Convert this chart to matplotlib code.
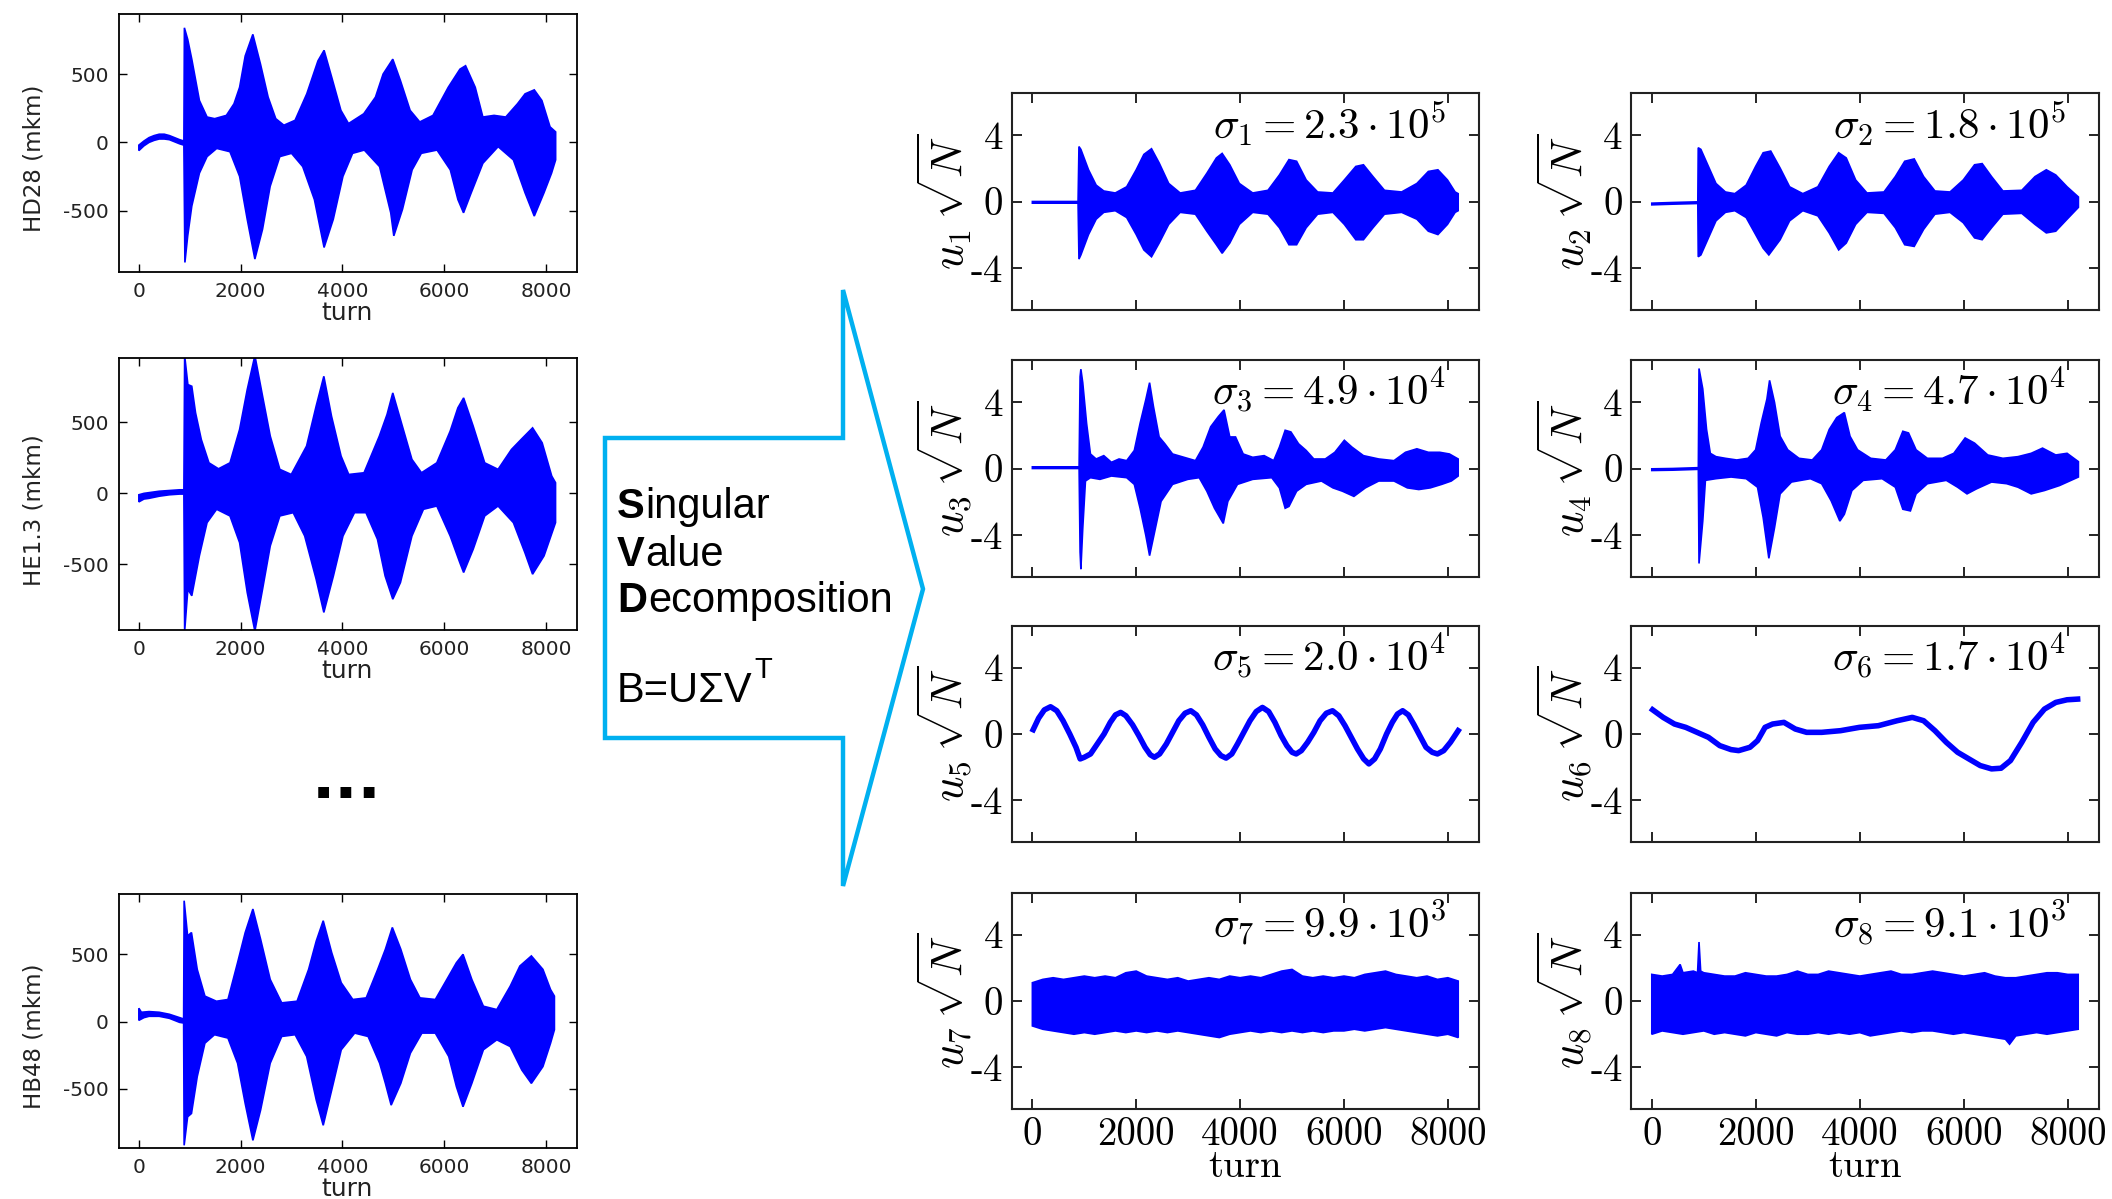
import matplotlib.pyplot as plt
from matplotlib.patches import Polygon
import numpy as np

plt.rcParams['mathtext.fontset'] = 'cm'

W, H = 2112, 1199

# ---- raw BPM signals: upper / lower envelope (mkm) ----
hd28_up_t = [0, 100, 200, 300, 400, 500, 600, 700, 800, 885, 895, 960, 1040, 1190, 1340, 1490, 1720, 1870, 1980,
             2090, 2240, 2390, 2540, 2690, 2850, 3070, 3300, 3520, 3640, 3790, 3970, 4120, 4420, 4650, 4800, 4990,
             5140, 5330, 5520, 5780, 6080, 6310, 6420, 6610, 6760, 6980, 7210, 7440, 7590, 7770, 7920, 8080, 8190]
hd28_up = [-20, 10, 35, 50, 60, 60, 50, 35, 20, 10, 840, 755, 610, 307, 186, 174, 198, 283, 404,
           634, 792, 574, 332, 174, 126, 162, 356, 598, 675, 477, 235, 138, 210, 332, 501, 610,
           453, 235, 150, 198, 404, 537, 562, 404, 186, 198, 186, 283, 356, 385, 307, 114, 77]
hd28_lo_t = [0, 100, 200, 300, 400, 500, 600, 700, 800, 885, 905, 960, 1040, 1190, 1340, 1530, 1790, 1980,
             2130, 2280, 2430, 2580, 2770, 3000, 3220, 3450, 3640, 3820, 4010, 4200, 4430, 4730, 4950, 5010,
             5180, 5370, 5550, 5860, 6120, 6270, 6380, 6530, 6760, 7060, 7360, 7590, 7770, 7960, 8110, 8190]
hd28_lo = [-60, -25, 0, 15, 25, 25, 20, 5, -10, -20, -880, -685, -467, -225, -104, -44, -68, -249,
           -564, -855, -637, -322, -104, -80, -177, -419, -770, -564, -249, -80, -56, -177, -516, -685,
           -491, -201, -80, -56, -201, -419, -516, -370, -153, -31, -128, -370, -540, -370, -225, -128]

he13_up_t = [0, 100, 200, 400, 600, 800, 885, 900, 963, 1040, 1114, 1227, 1377, 1565, 1791, 1980,
             2130, 2280, 2431, 2582, 2770, 2995, 3296, 3484, 3635, 3786, 3974, 4124, 4425, 4726, 4877, 4990,
             5140, 5366, 5554, 5855, 6118, 6269, 6382, 6570, 6796, 7059, 7322, 7511, 7737, 7925, 8113, 8188]
he13_up = [-10, 0, 5, 15, 20, 25, 25, 970, 766, 754, 567, 379, 215, 173, 215, 450,
           731, 970, 684, 403, 169, 133, 333, 614, 824, 543, 262, 133, 145, 403, 555, 707,
           520, 239, 145, 215, 438, 602, 672, 473, 215, 169, 309, 379, 461, 356, 122, 75]
he13_lo_t = [0, 100, 200, 400, 600, 800, 885, 900, 963, 1040, 1189, 1340, 1528, 1791, 1980,
             2130, 2280, 2431, 2582, 2770, 3033, 3259, 3484, 3635, 3823, 4011, 4237, 4463, 4689, 4839, 4990,
             5140, 5366, 5592, 5855, 6118, 6307, 6382, 6570, 6796, 7059, 7360, 7586, 7737, 7962, 8188]
he13_lo = [-60, -40, -35, -20, -10, -5, -5, -970, -674, -721, -440, -206, -112, -159, -347,
           -698, -970, -674, -370, -159, -136, -300, -604, -838, -581, -300, -136, -136, -323, -581, -745,
           -628, -300, -112, -89, -300, -487, -557, -393, -159, -89, -206, -417, -569, -440, -206]

hb48_up_t = [0, 50, 200, 400, 600, 800, 880, 890, 958, 1034, 1147, 1298, 1524, 1751, 1940,
             2090, 2241, 2392, 2581, 2807, 3109, 3336, 3487, 3623, 3789, 3977, 4204, 4468, 4694, 4845, 4981,
             5147, 5336, 5524, 5826, 6090, 6241, 6370, 6543, 6770, 7034, 7298, 7487, 7713, 7940, 8090, 8166]
hb48_up = [100, 70, 75, 70, 55, 30, 20, 900, 638, 663, 389, 190, 152, 165, 439,
           663, 838, 614, 314, 140, 152, 389, 601, 751, 514, 289, 165, 177, 389, 539, 701,
           539, 314, 177, 165, 339, 439, 501, 314, 115, 90, 264, 414, 489, 389, 239, 190]
hb48_lo_t = [0, 100, 200, 400, 600, 800, 880, 890, 958, 1034, 1147, 1298, 1487, 1751, 1940,
             2090, 2241, 2392, 2581, 2807, 3071, 3298, 3487, 3623, 3789, 3977, 4241, 4505, 4732, 4845, 4958,
             5147, 5336, 5562, 5826, 6090, 6241, 6370, 6543, 6770, 7034, 7298, 7525, 7713, 7940, 8090, 8166]
hb48_lo = [10, 30, 40, 40, 25, -5, -10, -920, -708, -683, -409, -160, -97, -122, -309,
           -609, -883, -658, -309, -110, -97, -259, -584, -771, -509, -209, -85, -110, -309, -459, -621,
           -459, -234, -85, -85, -259, -484, -633, -459, -209, -135, -185, -359, -459, -334, -160, -60]

# ---- singular vectors u_k * sqrt(N) ----
u1_up_t = [0, 400, 880, 897, 934, 1081, 1228, 1375, 1596, 1816, 2000, 2147, 2294, 2441, 2625, 2846, 3140, 3360,
           3544, 3654, 3801, 3985, 4243, 4537, 4757, 4941, 5088, 5272, 5493, 5787, 6007, 6228, 6375, 6559,
           6780, 7110, 7404, 7625, 7809, 7993, 8140, 8199]
u1_up = [0.0, 0.0, 0.0, 3.29, 3.12, 1.9, 0.98, 0.63, 0.51, 0.88, 1.9, 2.82, 3.16, 2.31, 1.08, 0.51, 0.67, 1.69,
         2.61, 2.88, 2.2, 1.08, 0.51, 0.67, 1.59, 2.51, 2.41, 1.29, 0.57, 0.51, 1.29, 2.1, 2.2, 1.49,
         0.67, 0.57, 1.08, 1.8, 1.9, 1.29, 0.57, 0.47]
u1_lo_t = [0, 400, 880, 897, 934, 1081, 1228, 1375, 1596, 1816, 2000, 2147, 2294, 2441, 2625, 2846, 3140, 3360,
           3544, 3654, 3801, 3985, 4243, 4537, 4757, 4941, 5088, 5272, 5493, 5787, 6007, 6228, 6375, 6559,
           6780, 7110, 7404, 7625, 7809, 7993, 8140, 8199]
u1_lo = [-0.1, -0.1, -0.1, -3.45, -3.2, -1.98, -1.06, -0.65, -0.55, -0.96, -1.98, -2.9, -3.31, -2.49, -1.37, -0.65,
         -0.76, -1.78, -2.59, -3.1, -2.49, -1.37, -0.65, -0.76, -1.57, -2.59, -2.59, -1.57, -0.76, -0.65, -1.37,
         -2.29, -2.29, -1.57, -0.76, -0.65, -1.06, -1.78, -1.98, -1.37, -0.65, -0.55]

u2_up_t = [0, 400, 885, 893, 944, 1089, 1234, 1416, 1597, 1815, 1997, 2142, 2287, 2468, 2650, 2904, 3194, 3412,
           3594, 3739, 3920, 4138, 4465, 4683, 4864, 5046, 5227, 5445, 5735, 5990, 6207, 6353, 6534, 6752,
           7115, 7369, 7587, 7768, 7986, 8168, 8204]
u2_up = [-0.1, -0.06, -0.02, 3.22, 3.12, 2.1, 1.08, 0.57, 0.47, 0.98, 2.1, 2.92, 3.02, 2.0, 0.88, 0.47, 0.88, 2.1,
         2.92, 2.61, 1.29, 0.51, 0.57, 1.49, 2.41, 2.55, 1.49, 0.63, 0.57, 1.29, 2.2, 2.27, 1.49, 0.63,
         0.67, 1.49, 1.9, 1.59, 0.88, 0.37, 0.27]
u2_lo_t = [0, 400, 885, 893, 944, 1089, 1234, 1416, 1597, 1815, 1997, 2142, 2251, 2468, 2650, 2904, 3194, 3412,
           3594, 3739, 3920, 4138, 4465, 4683, 4864, 5046, 5227, 5445, 5735, 5990, 6207, 6353, 6534, 6752,
           7115, 7369, 7587, 7768, 7986, 8204]
u2_lo = [-0.2, -0.16, -0.12, -3.31, -3.2, -2.18, -1.16, -0.65, -0.55, -0.96, -1.98, -2.8, -3.2, -2.29, -1.16,
         -0.55, -0.86, -1.88, -2.9, -2.49, -1.37, -0.65, -0.71, -1.57, -2.59, -2.69, -1.67, -0.76, -0.65, -1.27,
         -2.18, -2.29, -1.57, -0.76, -0.71, -1.37, -1.88, -1.78, -1.06, -0.35]

u3_up_t = [0, 400, 900, 919, 934, 970, 1044, 1118, 1228, 1375, 1522, 1669, 1816, 1963, 2074, 2184, 2257, 2331,
           2441, 2551, 2699, 2919, 3140, 3287, 3434, 3581, 3691, 3801, 3912, 4059, 4243, 4463, 4647, 4757,
           4868, 4978, 5125, 5272, 5419, 5640, 5824, 6007, 6154, 6375, 6669, 6963, 7184, 7404, 7625, 7846,
           8030, 8199]
u3_up = [0.1, 0.1, 0.1, 5.5, 5.95, 5.14, 2.7, 0.87, 0.57, 0.77, 0.37, 0.57, 0.47, 1.08, 2.7, 4.12, 5.14, 3.72,
         1.89, 1.48, 0.87, 0.67, 0.47, 1.28, 2.5, 3.11, 3.51, 1.89, 1.89, 0.87, 0.67, 0.77, 0.47, 1.28,
         2.29, 2.19, 1.48, 1.08, 0.57, 0.57, 0.97, 1.69, 1.28, 0.77, 0.57, 0.47, 0.97, 1.18, 0.97, 0.97,
         0.87, 0.57]
u3_lo_t = [0, 400, 900, 919, 934, 970, 1022, 1118, 1301, 1522, 1816, 1963, 2074, 2184, 2257, 2368, 2478, 2699,
           2993, 3213, 3360, 3507, 3676, 3764, 3949, 4243, 4610, 4757, 4868, 4941, 5088, 5272, 5566, 5787,
           5971, 6191, 6412, 6669, 6963, 7220, 7441, 7662, 7882, 8066, 8199]
u3_lo = [0.0, 0.0, 0.0, -5.0, -6.03, -3.59, -0.75, -0.55, -0.65, -0.45, -0.55, -0.95, -2.38, -4.0, -5.22, -3.59,
         -1.97, -0.95, -0.65, -0.55, -1.36, -2.38, -3.29, -1.97, -0.95, -0.65, -0.55, -1.16, -2.38, -2.27,
         -1.36, -0.95, -0.75, -1.16, -1.36, -1.67, -1.16, -0.75, -0.75, -1.16, -1.26, -1.16, -0.95, -0.75, -0.45]

u4_up_t = [0, 400, 895, 908, 980, 1053, 1125, 1234, 1416, 1634, 1851, 1997, 2105, 2214, 2265, 2360, 2468, 2614,
           2831, 3086, 3267, 3412, 3557, 3703, 3812, 3957, 4211, 4501, 4683, 4828, 4937, 5082, 5300, 5590,
           5808, 6026, 6207, 6461, 6752, 7042, 7296, 7514, 7768, 7986, 8204]
u4_up = [-0.02, 0.0, 0.05, 5.99, 4.77, 2.34, 0.91, 0.71, 0.61, 0.51, 0.61, 1.12, 2.74, 4.16, 5.28, 3.96, 1.93,
         1.12, 0.61, 0.51, 1.12, 2.34, 3.05, 3.35, 1.93, 1.12, 0.61, 0.51, 1.12, 2.23, 2.13, 1.12, 0.61, 0.61,
         0.91, 1.83, 1.52, 0.81, 0.61, 0.71, 0.91, 1.22, 0.81, 0.91, 0.41]
u4_lo_t = [0, 400, 895, 908, 980, 1031, 1234, 1525, 1815, 2033, 2142, 2251, 2360, 2468, 2686, 3049, 3267, 3449,
           3616, 3703, 3848, 4066, 4429, 4683, 4828, 4973, 5082, 5300, 5663, 5881, 6062, 6244, 6534, 6824,
           7042, 7296, 7550, 7841, 8204]
u4_lo = [-0.12, -0.1, -0.05, -5.69, -3.15, -0.71, -0.61, -0.51, -0.61, -1.12, -2.94, -5.38, -3.55, -1.52, -0.81,
         -0.61, -0.91, -1.93, -3.15, -2.74, -1.32, -0.71, -0.61, -1.12, -2.44, -2.54, -1.52, -0.91, -0.71, -1.12,
         -1.52, -1.22, -0.81, -0.91, -1.12, -1.52, -1.32, -1.02, -0.51]

u5_t = [15, 120, 230, 350, 470, 590, 720, 840, 920, 1000, 1120, 1250, 1380, 1500, 1600, 1700, 1800, 1930,
        2050, 2170, 2270, 2350, 2450, 2580, 2700, 2820, 2940, 3050, 3160, 3280, 3400, 3520, 3630, 3730,
        3840, 3950, 4070, 4190, 4310, 4430, 4550, 4670, 4790, 4900, 5000, 5080, 5180, 5300, 5420, 5540,
        5660, 5780, 5900, 6020, 6140, 6260, 6380, 6480, 6590, 6700, 6820, 6930, 7030, 7130, 7240, 7350,
        7460, 7580, 7700, 7800, 7920, 8050, 8199]
u5 = [0.26, 0.95, 1.45, 1.64, 1.4, 0.8, 0.0, -0.8, -1.5, -1.4, -1.2, -0.6, 0.0, 0.7, 1.15, 1.3, 1.1, 0.55,
      -0.1, -0.8, -1.25, -1.4, -1.2, -0.6, 0.1, 0.8, 1.25, 1.4, 1.15, 0.55, -0.2, -0.9, -1.3, -1.45,
      -1.2, -0.6, 0.1, 0.8, 1.35, 1.6, 1.35, 0.7, -0.1, -0.7, -1.1, -1.2, -1.0, -0.5, 0.1, 0.8,
      1.25, 1.4, 1.1, 0.5, -0.2, -0.9, -1.5, -1.8, -1.5, -0.9, 0.0, 0.7, 1.2, 1.4, 1.15, 0.55,
      -0.1, -0.8, -1.1, -1.2, -1.0, -0.5, 0.2]

u6_t = [15, 218, 436, 653, 871, 1089, 1307, 1525, 1670, 1888, 2033, 2178, 2323, 2541, 2759, 2977, 3267, 3630,
        3993, 4356, 4719, 5009, 5227, 5445, 5663, 5881, 6098, 6316, 6534, 6716, 6897, 7115, 7333, 7551,
        7768, 7986, 8189]
u6 = [1.46, 1.0, 0.6, 0.4, 0.1, -0.2, -0.7, -0.94, -1.0, -0.8, -0.4, 0.4, 0.6, 0.7, 0.3, 0.1, 0.1, 0.2,
      0.4, 0.5, 0.8, 1.0, 0.8, 0.2, -0.5, -1.1, -1.5, -1.9, -2.1, -2.06, -1.6, -0.5, 0.7, 1.5,
      1.9, 2.06, 2.1]

u7_t = np.arange(0, 8201, 200)
u7_up = [1.1, 1.3, 1.4, 1.3, 1.4, 1.5, 1.4, 1.5, 1.4, 1.7, 1.8, 1.5, 1.4, 1.3, 1.4, 1.2, 1.3, 1.4, 1.3, 1.5, 1.4,
         1.5, 1.4, 1.6, 1.8, 1.9, 1.5, 1.4, 1.5, 1.4, 1.5, 1.4, 1.6, 1.7, 1.8, 1.6, 1.5, 1.4, 1.5, 1.3, 1.4, 1.2]
u7_lo = [-1.5, -1.7, -1.8, -1.9, -2.0, -1.9, -2.0, -1.9, -1.8, -1.9, -1.8, -1.9, -1.8, -1.9, -1.8, -1.9, -2.0,
         -2.1, -2.2, -2.0, -1.9, -1.8, -1.9, -1.8, -1.9, -1.8, -1.9, -1.8, -1.9, -1.8, -1.8, -1.7, -1.8, -1.7,
         -1.6, -1.7, -1.8, -1.9, -2.0, -2.1, -2.0, -2.2]

u8_up_t = [0, 200, 400, 545, 600, 800, 880, 908, 940, 1000, 1200, 1400, 1600, 1800, 2000, 2200, 2400, 2600,
           2800, 3000, 3200, 3400, 3600, 3800, 4000, 4200, 4400, 4600, 4800, 5000, 5200, 5400, 5600, 5800,
           6000, 6200, 6400, 6600, 6800, 7000, 7200, 7400, 7600, 7800, 8000, 8200]
u8_up = [1.6, 1.5, 1.6, 2.2, 1.7, 1.8, 1.7, 3.55, 1.8, 1.7, 1.6, 1.5, 1.5, 1.7, 1.6, 1.5, 1.5, 1.6,
         1.8, 1.6, 1.6, 1.8, 1.7, 1.6, 1.5, 1.6, 1.7, 1.8, 1.6, 1.6, 1.7, 1.8, 1.7, 1.6,
         1.5, 1.6, 1.7, 1.5, 1.4, 1.4, 1.5, 1.6, 1.7, 1.7, 1.6, 1.6]
u8_lo_t = [0, 200, 400, 600, 800, 1000, 1200, 1400, 1600, 1800, 2000, 2200, 2400, 2600, 2800, 3000, 3200,
           3400, 3600, 3800, 4000, 4200, 4400, 4600, 4800, 5000, 5200, 5400, 5600, 5800, 6000, 6200, 6400,
           6600, 6800, 6880, 7000, 7200, 7400, 7600, 7800, 8000, 8200]
u8_lo = [-2.0, -1.8, -1.9, -2.0, -1.9, -1.8, -2.0, -1.9, -2.0, -2.1, -1.9, -2.0, -2.1, -1.9, -2.0, -2.0, -1.9,
         -2.0, -1.9, -2.0, -1.9, -2.1, -2.0, -1.9, -1.8, -1.9, -1.8, -1.8, -1.9, -2.0, -1.9, -2.0, -2.1,
         -2.2, -2.3, -2.6, -2.1, -2.0, -1.9, -2.0, -1.9, -1.8, -1.7]

sigma_mant = [2.3, 1.8, 4.9, 4.7, 2.0, 1.7, 9.9, 9.1]
sigma_exp = [5, 5, 4, 4, 4, 4, 3, 3]

turn_ticks = [0, 2000, 4000, 6000, 8000]

fig = plt.figure(figsize=(W / 100, H / 100), dpi=100)


def rect(x0, y0, x1, y1):
    return [x0 / W, 1 - y1 / H, (x1 - x0) / W, (y1 - y0) / H]


def band(ax, up_t, up, lo_t, lo):
    ax.fill(list(up_t) + list(lo_t)[::-1], list(up) + list(lo)[::-1], color='blue', lw=1.2)


# overlay for the arrow and the words
ov = fig.add_axes([0, 0, 1, 1])
ov.set_xlim(0, W)
ov.set_ylim(H, 0)
ov.axis('off')
arrow = [(605, 438), (843, 438), (843, 290), (923, 589), (843, 886), (843, 738), (605, 738)]
ov.add_patch(Polygon(arrow, closed=True, fill=False, ec='#00b0f0', lw=3.2, joinstyle='miter'))

for word, yb in zip(['Singular', 'Value', 'Decomposition'], [518, 566, 612]):
    first = ov.text(617, yb, word[0], fontsize=30, fontweight='bold', family='Liberation Sans', va='baseline')
    ov.annotate(word[1:], xy=(1, 0), xycoords=first, xytext=(0.6, 0), textcoords='offset points',
                va='bottom', ha='left', fontsize=30, family='Liberation Sans')
eq = ov.text(617, 702, 'B=U\u03a3V', fontsize=30, family='Liberation Sans', va='baseline')
ov.annotate('T', xy=(1, 1), xycoords=eq, xytext=(1.5, 1), textcoords='offset points',
            fontsize=21, family='Liberation Sans', va='center', ha='left')
ov.text(347, 781, '...', fontsize=44, fontweight='bold', ha='center', va='center')

# left column: measured turn-by-turn data
left = [('HD28', hd28_up_t, hd28_up, hd28_lo_t, hd28_lo, (-950, 945), (13.5, 272)),
        ('HE1.3', he13_up_t, he13_up, he13_lo_t, he13_lo, (-962, 953), (358, 630)),
        ('HB48', hb48_up_t, hb48_up, hb48_lo_t, hb48_lo, (-940, 950), (894, 1148))]
for name, ut, uv, lt, lv, ylim, (y0, y1) in left:
    ax = fig.add_axes(rect(118.5, y0, 576.5, y1))
    band(ax, ut, uv, lt, lv)
    ax.set_xlim(-400, 8600)
    ax.set_ylim(*ylim)
    ax.set_xticks(turn_ticks, labels=[str(t) for t in turn_ticks])
    ax.set_yticks([-500, 0, 500], labels=['-500', '0', '500'])
    ax.tick_params(direction='in', top=True, right=True, length=6, width=1, labelsize=14.5,
                   labelcolor='#222222', pad=7)
    for s in ax.spines.values():
        s.set_linewidth(1.3)
    ax.set_ylabel(name + ' (mkm)', fontsize=16.5, color='#222222')
    ax.yaxis.set_label_coords(-0.16, 0.44)
    ax.set_xlabel('turn', fontsize=18, color='#222222', labelpad=0)

# right grid: SVD modes
cols = [(1011.6, 1479), (1631, 2099)]
rows = [(93, 310), (360, 577), (626, 842), (893, 1109)]
bands = {1: (u1_up_t, u1_up, u1_lo_t, u1_lo), 2: (u2_up_t, u2_up, u2_lo_t, u2_lo),
         3: (u3_up_t, u3_up, u3_lo_t, u3_lo), 4: (u4_up_t, u4_up, u4_lo_t, u4_lo),
         7: (u7_t, u7_up, u7_t, u7_lo), 8: (u8_up_t, u8_up, u8_lo_t, u8_lo)}
lines = {5: (u5_t, u5), 6: (u6_t, u6)}

for k in range(1, 9):
    r, c = (k - 1) // 2, (k - 1) % 2
    ax = fig.add_axes(rect(cols[c][0], rows[r][0], cols[c][1], rows[r][1]))
    if k in bands:
        band(ax, *bands[k])
    else:
        ax.plot(*lines[k], color='blue', lw=4, solid_joinstyle='round')
    ax.set_xlim(-400, 8600)
    ax.set_ylim(-6.5, 6.5)
    ax.set_yticks([-4, 0, 4], labels=['-4', '0', '4'], fontfamily='cmr10', fontsize=28)
    if r == 3:
        ax.set_xticks(turn_ticks, labels=[str(t) for t in turn_ticks], fontfamily='cmr10', fontsize=28)
        ax.set_xlabel('turn', fontfamily='cmr10', fontsize=28, labelpad=-3)
    else:
        ax.set_xticks(turn_ticks, labels=[])
    ax.tick_params(direction='in', top=True, right=True, length=7, width=1.2, pad=6)
    for s in ax.spines.values():
        s.set_linewidth(1.5)
        s.set_color('#222222')
    ax.set_ylabel(rf'$u_{{{k}}}\,\sqrt{{N}}$', fontsize=32)
    ax.yaxis.set_label_coords(-0.08, 0.5)
    ax.text(0.93, 0.79, rf'$\sigma_{{{k}}} = {sigma_mant[k - 1]:.1f} \cdot 10^{{{sigma_exp[k - 1]}}}$',
            transform=ax.transAxes, ha='right', va='baseline', fontsize=31)

fig.savefig('out.png', dpi=100)
